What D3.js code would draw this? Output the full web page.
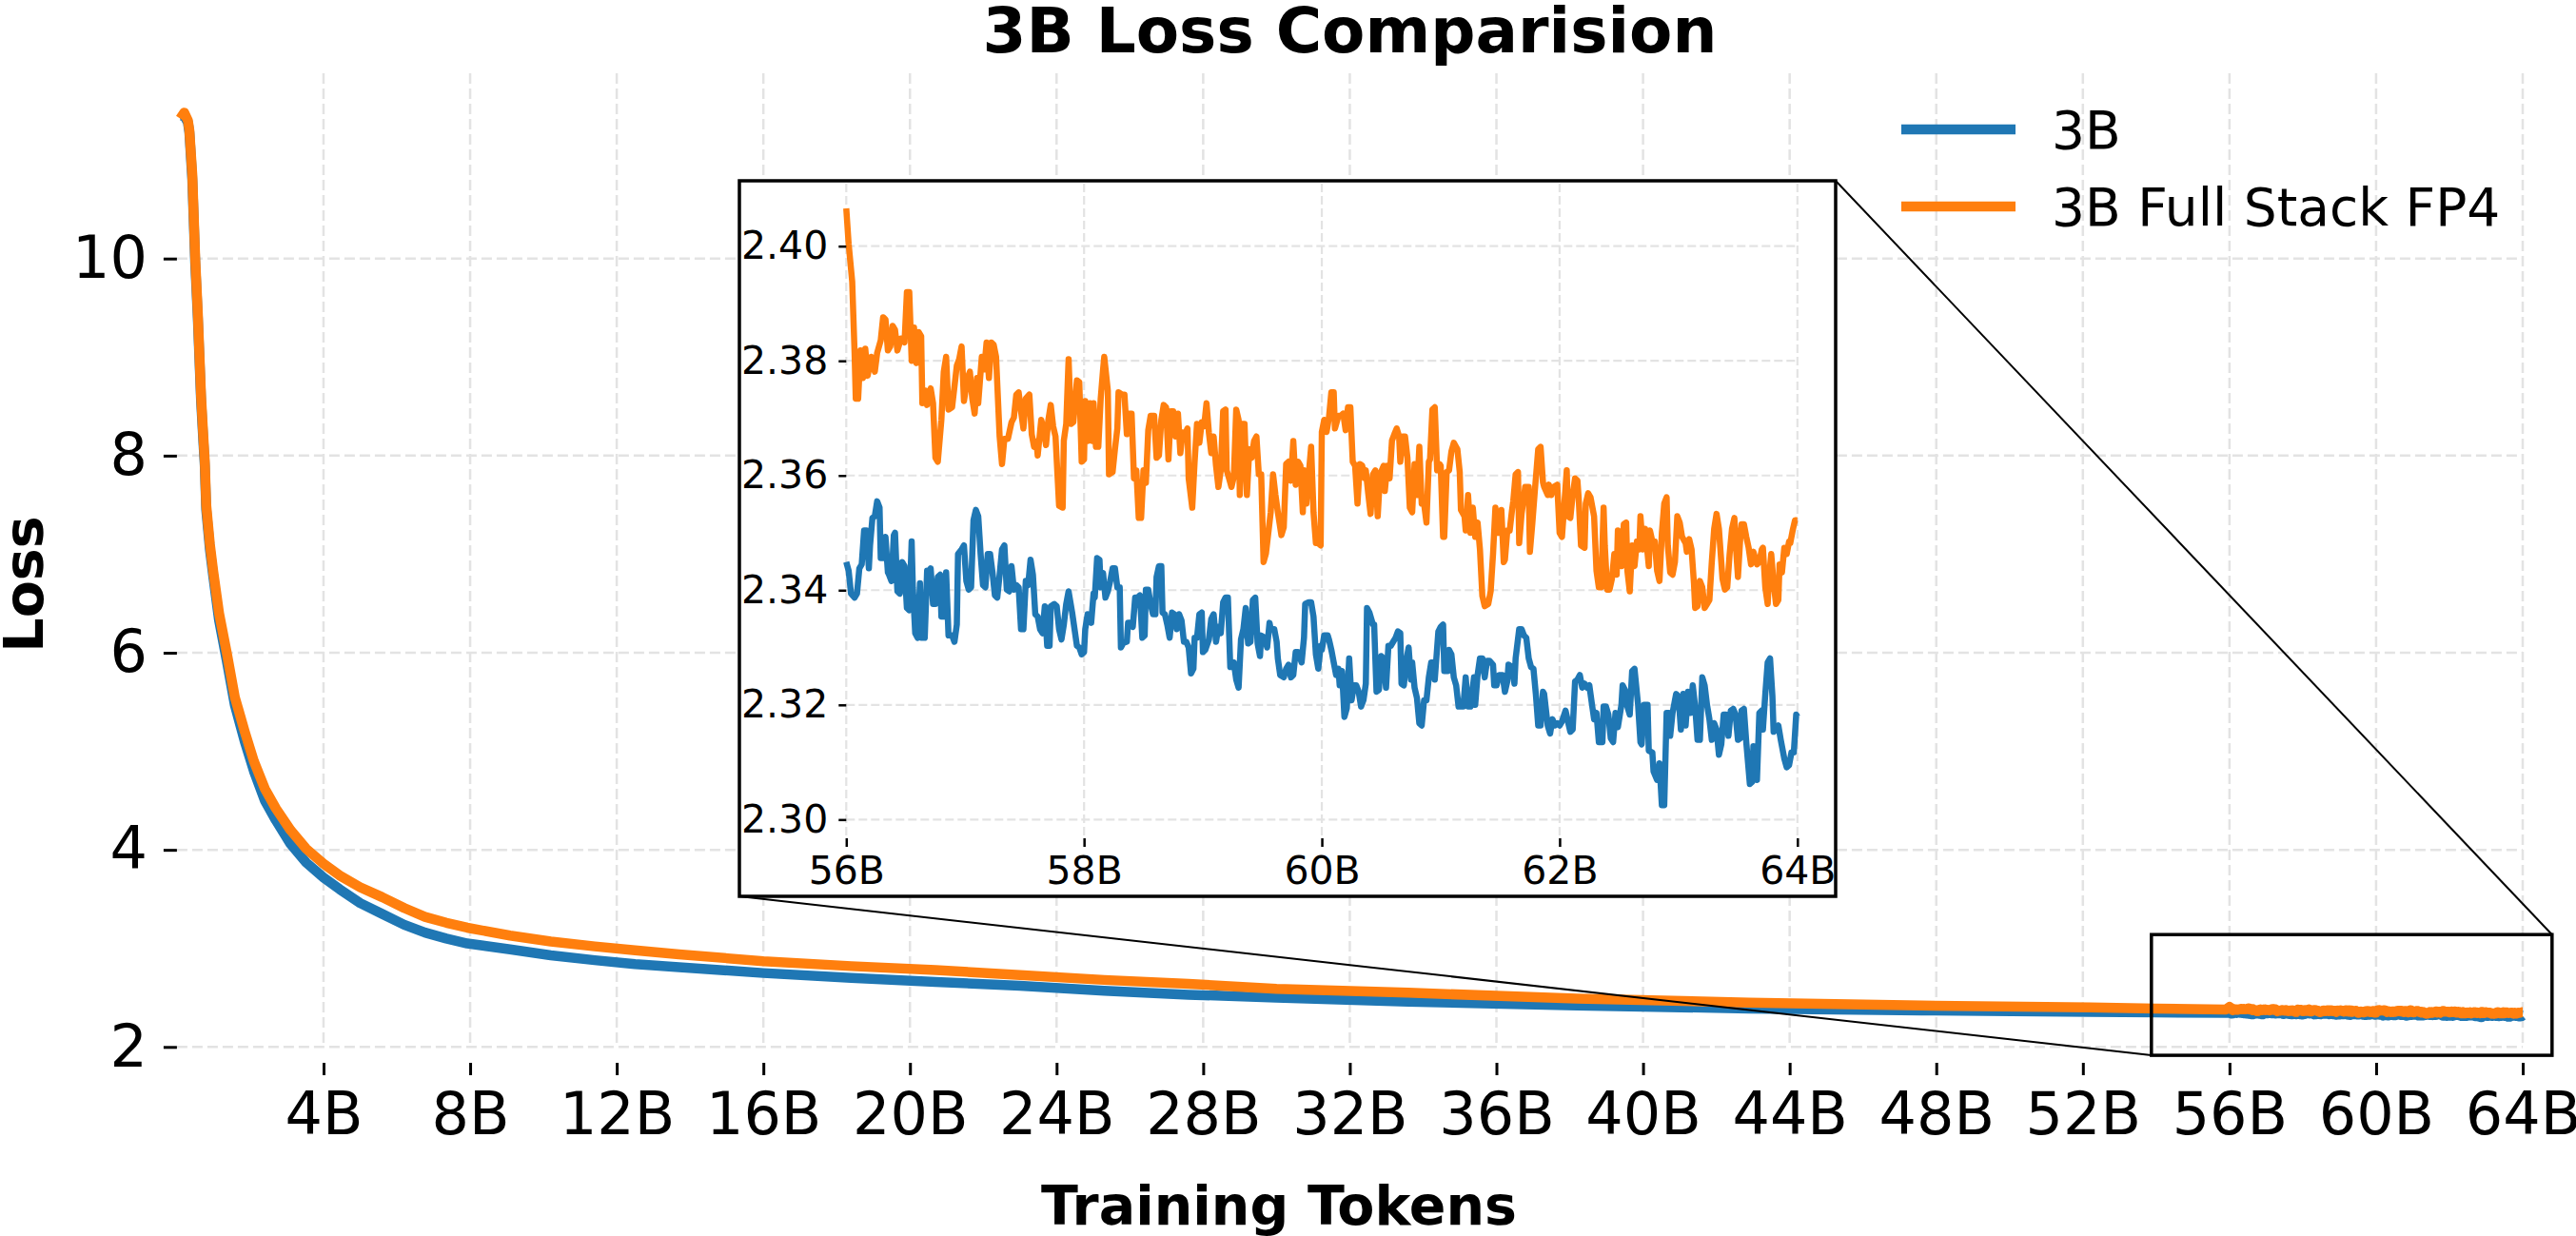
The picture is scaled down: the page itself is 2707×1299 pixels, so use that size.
<!DOCTYPE html>
<html>
<head>
<meta charset="utf-8">
<script src="https://cdn.jsdelivr.net/npm/d3@7"></script>
<style>
  body { margin: 0; background: #fff; }
  svg { display: block; }
  text { font-family: "DejaVu Sans", sans-serif; fill: #000; }
</style>
</head>
<body>
<div id="chart"></div>
<script>
// ---- data (tokens in billions, loss values) ----
const mainTokens = [0.09, 0.2, 0.3, 0.34, 0.42, 0.5, 0.57, 0.66, 0.72, 0.76, 0.8, 0.9, 0.99, 1.15, 1.36, 1.58, 1.85, 2.1, 2.4, 2.7,
  3.1, 3.53, 4.0, 4.44, 5.0, 5.6, 6.2, 6.77, 7.35, 7.92, 9.09, 10.2, 11.4, 12.5, 13.7, 16.0, 18.4, 20.7, 23.0, 25.3,
  27.6, 30, 33.6, 38.2, 42.9, 47.6, 52.2, 54, 55.9];
const main3B = [11.45, 11.45, 11.38, 11.28, 10.8, 9.95, 9.4, 8.55, 8.15, 7.9, 7.45, 7.05, 6.78, 6.33, 5.92, 5.47, 5.1, 4.8, 4.5, 4.3,
  4.06, 3.87, 3.72, 3.60, 3.46, 3.35, 3.24, 3.16, 3.10, 3.05, 2.99, 2.93, 2.88, 2.84, 2.81, 2.75, 2.70, 2.66, 2.62, 2.57,
  2.53, 2.50, 2.46, 2.42, 2.39, 2.37, 2.355, 2.35, 2.345];
const mainFP4 = [11.42, 11.48, 11.40, 11.30, 10.85, 10.0, 9.45, 8.6, 8.2, 7.95, 7.5, 7.1, 6.83, 6.4, 6.0, 5.55, 5.2, 4.9, 4.62, 4.42,
  4.2, 4.01, 3.86, 3.74, 3.62, 3.52, 3.41, 3.32, 3.26, 3.21, 3.13, 3.07, 3.02, 2.98, 2.94, 2.87, 2.82, 2.78, 2.73, 2.68,
  2.64, 2.59, 2.55, 2.49, 2.45, 2.42, 2.40, 2.39, 2.38];

// last 8B in detail, [tokens, loss]
const zoom3B = [
  [56.00,2.3449],[56.02,2.3434],[56.04,2.3394],[56.07,2.3387],[56.09,2.3394],[56.11,2.3438],[56.13,2.3445],[56.15,2.3504],[56.17,2.3504],[56.19,2.3438],
  [56.20,2.3478],[56.22,2.3526],[56.24,2.3529],[56.26,2.3555],[56.28,2.3544],[56.29,2.3456],[56.31,2.3456],[56.33,2.3493],[56.35,2.3431],[56.36,2.3427],
  [56.38,2.3416],[56.40,2.3496],[56.41,2.3500],[56.43,2.3398],[56.45,2.3394],[56.47,2.3449],[56.49,2.3442],[56.51,2.3369],[56.53,2.3365],[56.55,2.3485],
  [56.56,2.3405],[56.58,2.3325],[56.60,2.3317],[56.62,2.3412],[56.63,2.3317],[56.66,2.3317],[56.68,2.3434],[56.70,2.3434],[56.71,2.3438],[56.73,2.3376],
  [56.75,2.3376],[56.77,2.3423],[56.79,2.3427],[56.80,2.3354],[56.83,2.3354],[56.84,2.3431],[56.86,2.3321],[56.89,2.3321],[56.91,2.3310],[56.93,2.3340],
  [56.94,2.3463],[56.97,2.3471],[56.99,2.3478],[57.01,2.3416],[57.03,2.3401],[57.05,2.3405],[57.07,2.3522],[57.09,2.3540],[57.11,2.3529],[57.13,2.3463],
  [57.15,2.3409],[57.17,2.3405],[57.19,2.3463],[57.21,2.3463],[57.23,2.3431],[57.25,2.3391],[57.27,2.3387],[57.29,2.3427],[57.31,2.3471],[57.33,2.3478],
  [57.35,2.3401],[57.37,2.3398],[57.39,2.3442],[57.41,2.3401],[57.43,2.3409],[57.45,2.3405],[57.47,2.3332],[57.49,2.3332],[57.51,2.3416],[57.53,2.3409],
  [57.55,2.3453],[57.57,2.3427],[57.59,2.3358],[57.61,2.3354],[57.63,2.3332],[57.65,2.3325],[57.67,2.3372],[57.69,2.3303],[57.71,2.3303],[57.72,2.3372],
  [57.75,2.3376],[57.77,2.3372],[57.79,2.3332],[57.81,2.3314],[57.83,2.3340],[57.85,2.3376],[57.87,2.3398],[57.90,2.3361],[57.92,2.3332],[57.94,2.3303],
  [57.96,2.3300],[57.98,2.3288],[58.00,2.3292],
  [58.01,2.3332],[58.03,2.3358],[58.06,2.3343],[58.08,2.3394],[58.09,2.3387],[58.11,2.3456],[58.13,2.3453],[58.14,2.3405],[58.16,2.3430],[58.18,2.3387],
  [58.20,2.3398],[58.22,2.3416],[58.24,2.3438],[58.26,2.3438],[58.28,2.3405],[58.30,2.3405],[58.31,2.3300],[58.33,2.3308],[58.36,2.3310],[58.37,2.3343],
  [58.39,2.3343],[58.41,2.3336],[58.43,2.3387],[58.45,2.3387],[58.47,2.3391],[58.49,2.3317],[58.51,2.3321],[58.52,2.3401],[58.54,2.3401],[58.56,2.3376],
  [58.58,2.3358],[58.60,2.3358],[58.61,2.3423],[58.63,2.3442],[58.65,2.3442],[58.66,2.3361],[58.68,2.3358],[58.70,2.3340],[58.72,2.3317],[58.74,2.3361],
  [58.76,2.3358],[58.78,2.3332],[58.80,2.3358],[58.82,2.3347],[58.84,2.3310],[58.86,2.3310],[58.88,2.3300],[58.90,2.3255],[58.92,2.3263],[58.93,2.3317],
  [58.95,2.3317],[58.97,2.3358],[58.99,2.3361],[59.00,2.3292],[59.02,2.3296],[59.05,2.3314],[59.07,2.3350],[59.09,2.3358],[59.11,2.3310],[59.13,2.3336],
  [59.15,2.3325],[59.17,2.3379],[59.19,2.3387],[59.21,2.3387],[59.23,2.3266],[59.25,2.3266],[59.26,2.3274],[59.28,2.3244],[59.30,2.3230],[59.32,2.3314],
  [59.34,2.3332],[59.36,2.3369],[59.38,2.3307],[59.40,2.3310],[59.42,2.3383],[59.44,2.3387],[59.46,2.3307],[59.48,2.3285],[59.49,2.3321],[59.52,2.3317],
  [59.54,2.3300],[59.56,2.3343],[59.57,2.3332],[59.60,2.3332],[59.62,2.3310],[59.63,2.3281],[59.65,2.3252],[59.68,2.3248],[59.70,2.3263],[59.72,2.3270],
  [59.74,2.3248],[59.76,2.3252],[59.78,2.3292],[59.80,2.3292],[59.83,2.3274],[59.85,2.3317],[59.86,2.3376],[59.89,2.3379],[59.91,2.3379],[59.93,2.3354],
  [59.95,2.3288],[59.97,2.3263],[59.99,2.3303],
  [60.00,2.3296],[60.02,2.3321],[60.05,2.3321],[60.06,2.3314],[60.08,2.3296],[60.10,2.3274],[60.12,2.3252],[60.14,2.3263],[60.15,2.3234],[60.17,2.3259],
  [60.19,2.3179],[60.21,2.3194],[60.23,2.3281],[60.25,2.3208],[60.27,2.3234],[60.29,2.3234],[60.31,2.3223],[60.33,2.3197],[60.35,2.3208],[60.37,2.3237],
  [60.38,2.3369],[60.40,2.3361],[60.43,2.3340],[60.44,2.3340],[60.46,2.3223],[60.48,2.3226],[60.50,2.3285],[60.52,2.3281],[60.54,2.3230],[60.56,2.3303],
  [60.58,2.3303],[60.60,2.3310],[60.62,2.3317],[60.64,2.3328],[60.66,2.3325],[60.67,2.3237],[60.69,2.3234],[60.71,2.3277],[60.73,2.3300],[60.75,2.3244],
  [60.76,2.3274],[60.78,2.3230],[60.80,2.3212],[60.82,2.3168],[60.84,2.3164],[60.86,2.3208],[60.88,2.3208],[60.90,2.3248],[60.92,2.3274],[60.94,2.3274],
  [60.95,2.3244],[60.98,2.3328],[61.00,2.3336],[61.02,2.3340],[61.03,2.3259],[61.06,2.3259],[61.07,2.3296],[61.09,2.3288],[61.11,2.3248],[61.13,2.3234],
  [61.15,2.3197],[61.17,2.3197],[61.19,2.3197],[61.21,2.3248],[61.23,2.3197],[61.25,2.3197],[61.28,2.3248],[61.29,2.3200],[61.31,2.3252],[61.33,2.3281],
  [61.35,2.3281],[61.37,2.3248],[61.39,2.3277],[61.41,2.3277],[61.44,2.3270],[61.45,2.3234],[61.47,2.3234],[61.49,2.3252],[61.52,2.3252],[61.54,2.3223],
  [61.56,2.3241],[61.57,2.3270],[61.60,2.3266],[61.62,2.3237],[61.63,2.3281],[61.66,2.3332],[61.68,2.3332],[61.70,2.3321],[61.72,2.3317],[61.74,2.3281],
  [61.76,2.3266],[61.78,2.3263],[61.80,2.3219],[61.82,2.3164],[61.84,2.3164],[61.86,2.3223],[61.87,2.3219],[61.90,2.3164],[61.92,2.3150],[61.94,2.3175],
  [61.96,2.3164],[61.98,2.3168],
  [62.00,2.3164],[62.02,2.3171],[62.05,2.3190],[62.07,2.3171],[62.09,2.3153],[62.11,2.3157],[62.13,2.3241],[62.15,2.3244],[62.17,2.3252],[62.19,2.3230],
  [62.21,2.3237],[62.23,2.3230],[62.25,2.3234],[62.27,2.3204],[62.29,2.3175],[62.31,2.3186],[62.33,2.3135],[62.36,2.3135],[62.37,2.3197],[62.39,2.3197],
  [62.41,2.3183],[62.43,2.3142],[62.45,2.3135],[62.47,2.3186],[62.49,2.3161],[62.52,2.3200],[62.53,2.3234],[62.55,2.3226],[62.57,2.3197],[62.59,2.3183],
  [62.61,2.3259],[62.63,2.3263],[62.66,2.3200],[62.68,2.3135],[62.69,2.3131],[62.71,2.3200],[62.74,2.3200],[62.75,2.3120],[62.78,2.3117],[62.79,2.3084],
  [62.82,2.3069],[62.84,2.3098],[62.86,2.3025],[62.88,2.3025],[62.90,2.3186],[62.92,2.3186],[62.93,2.3146],[62.95,2.3186],[62.98,2.3219],[63.00,2.3215],
  [63.02,2.3157],[63.04,2.3219],[63.06,2.3164],[63.08,2.3223],[63.10,2.3186],[63.12,2.3234],[63.14,2.3197],[63.16,2.3139],[63.18,2.3139],[63.20,2.3248],
  [63.22,2.3234],[63.24,2.3200],[63.26,2.3175],[63.28,2.3139],[63.30,2.3168],[63.32,2.3157],[63.34,2.3113],[63.36,2.3131],[63.38,2.3183],[63.40,2.3183],
  [63.42,2.3146],[63.44,2.3190],[63.46,2.3193],[63.48,2.3183],[63.50,2.3139],[63.52,2.3142],[63.53,2.3190],[63.55,2.3193],[63.57,2.3135],[63.60,2.3062],
  [63.62,2.3066],[63.63,2.3128],[63.66,2.3069],[63.68,2.3186],[63.70,2.3190],[63.71,2.3157],[63.73,2.3219],[63.75,2.3274],[63.77,2.3281],[63.79,2.3215],
  [63.80,2.3153],[63.82,2.3157],[63.84,2.3164],[63.86,2.3139],[63.89,2.3106],[63.91,2.3091],[63.93,2.3095],[63.95,2.3117],[63.97,2.3117],[63.99,2.3183],
  [64.00,2.3179]
];

const zoomFP4 = [
  [56.00,2.4066],[56.02,2.4004],[56.05,2.3938],[56.07,2.3814],[56.08,2.3734],[56.10,2.3734],[56.12,2.3818],[56.14,2.3770],[56.16,2.3821],[56.18,2.3774],
  [56.21,2.3807],[56.24,2.3781],[56.26,2.3814],[56.29,2.3836],[56.31,2.3876],[56.33,2.3872],[56.35,2.3818],[56.37,2.3825],[56.39,2.3861],[56.41,2.3854],
  [56.43,2.3818],[56.46,2.3839],[56.49,2.3832],[56.51,2.3920],[56.53,2.3920],[56.55,2.3800],[56.57,2.3858],[56.59,2.3796],[56.61,2.3850],[56.63,2.3843],
  [56.64,2.3726],[56.67,2.3748],[56.68,2.3723],[56.71,2.3752],[56.73,2.3726],[56.75,2.3631],[56.77,2.3624],[56.80,2.3697],[56.82,2.3781],[56.84,2.3807],
  [56.86,2.3715],[56.89,2.3719],[56.91,2.3755],[56.93,2.3792],[56.95,2.3803],[56.97,2.3825],[56.99,2.3730],[57.02,2.3770],[57.04,2.3781],[57.06,2.3734],
  [57.08,2.3708],[57.10,2.3770],[57.11,2.3726],[57.14,2.3807],[57.16,2.3785],[57.18,2.3832],[57.20,2.3770],[57.22,2.3832],[57.24,2.3828],[57.26,2.3807],
  [57.29,2.3668],[57.31,2.3620],[57.33,2.3664],[57.36,2.3664],[57.39,2.3693],[57.41,2.3701],[57.43,2.3741],[57.45,2.3745],[57.47,2.3712],[57.49,2.3682],
  [57.51,2.3734],[57.54,2.3741],[57.56,2.3672],[57.58,2.3650],[57.60,2.3659],[57.61,2.3635],[57.64,2.3697],[57.66,2.3682],[57.68,2.3653],[57.70,2.3697],
  [57.72,2.3723],[57.74,2.3686],[57.76,2.3668],[57.79,2.3547],[57.82,2.3544],[57.83,2.3661],[57.85,2.3690],[57.87,2.3803],[57.89,2.3690],[57.91,2.3693],
  [57.94,2.3766],[57.96,2.3763],[57.98,2.3624],[58.00,2.3628],
  [58.01,2.3730],[58.03,2.3660],[58.05,2.3726],[58.07,2.3660],[58.08,2.3726],[58.10,2.3650],[58.12,2.3650],[58.14,2.3734],[58.16,2.3785],[58.17,2.3807],
  [58.20,2.3748],[58.21,2.3602],[58.24,2.3606],[58.26,2.3646],[58.28,2.3682],[58.29,2.3745],[58.32,2.3741],[58.34,2.3741],[58.36,2.3672],[58.38,2.3708],
  [58.40,2.3708],[58.42,2.3595],[58.44,2.3609],[58.46,2.3526],[58.48,2.3526],[58.50,2.3609],[58.52,2.3587],[58.54,2.3679],[58.56,2.3704],[58.59,2.3704],
  [58.61,2.3631],[58.63,2.3635],[58.65,2.3697],[58.67,2.3723],[58.69,2.3719],[58.71,2.3628],[58.73,2.3712],[58.75,2.3712],[58.77,2.3668],[58.79,2.3708],
  [58.81,2.3639],[58.83,2.3675],[58.85,2.3672],[58.87,2.3682],[58.88,2.3595],[58.91,2.3544],[58.93,2.3624],[58.95,2.3690],[58.97,2.3657],[58.99,2.3693],
  [59.01,2.3686],[59.03,2.3726],[59.05,2.3675],[59.07,2.3639],[59.09,2.3668],[59.11,2.3617],[59.13,2.3580],[59.15,2.3609],[59.17,2.3712],[59.19,2.3715],
  [59.20,2.3609],[59.22,2.3595],[59.24,2.3580],[59.26,2.3598],[59.28,2.3715],[59.30,2.3697],[59.31,2.3566],[59.33,2.3690],[59.35,2.3690],[59.37,2.3566],
  [59.39,2.3646],[59.41,2.3631],[59.43,2.3660],[59.45,2.3668],[59.47,2.3602],[59.49,2.3602],[59.51,2.3449],[59.53,2.3464],[59.55,2.3500],[59.57,2.3536],
  [59.59,2.3602],[59.61,2.3566],[59.63,2.3536],[59.66,2.3496],[59.68,2.3510],[59.70,2.3620],[59.72,2.3624],[59.74,2.3591],[59.76,2.3660],[59.78,2.3584],
  [59.80,2.3624],[59.82,2.3617],[59.84,2.3536],[59.85,2.3609],[59.87,2.3551],[59.89,2.3602],[59.91,2.3650],[59.93,2.3536],[59.95,2.3482],[59.97,2.3482],
  [59.99,2.3478],
  [60.00,2.3676],[60.02,2.3697],[60.04,2.3676],[60.06,2.3701],[60.08,2.3745],[60.10,2.3745],[60.11,2.3682],[60.14,2.3704],[60.16,2.3704],[60.18,2.3708],
  [60.20,2.3679],[60.22,2.3719],[60.24,2.3719],[60.26,2.3624],[60.28,2.3617],[60.30,2.3551],[60.32,2.3620],[60.34,2.3617],[60.36,2.3595],[60.37,2.3609],
  [60.39,2.3569],[60.41,2.3533],[60.43,2.3602],[60.45,2.3609],[60.47,2.3529],[60.49,2.3602],[60.52,2.3617],[60.53,2.3573],[60.55,2.3617],[60.57,2.3595],
  [60.59,2.3661],[60.61,2.3672],[60.63,2.3682],[60.65,2.3668],[60.66,2.3624],[60.68,2.3668],[60.70,2.3668],[60.72,2.3631],[60.74,2.3544],[60.76,2.3536],
  [60.78,2.3620],[60.80,2.3566],[60.82,2.3650],[60.84,2.3551],[60.86,2.3551],[60.88,2.3518],[60.90,2.3624],[60.91,2.3628],[60.93,2.3715],[60.95,2.3719],
  [60.97,2.3609],[60.99,2.3620],[61.00,2.3617],[61.02,2.3493],[61.03,2.3493],[61.05,2.3606],[61.07,2.3609],[61.09,2.3642],[61.11,2.3657],[61.14,2.3646],
  [61.16,2.3606],[61.17,2.3540],[61.20,2.3529],[61.21,2.3504],[61.23,2.3566],[61.25,2.3500],[61.27,2.3544],[61.29,2.3493],[61.31,2.3518],[61.33,2.3471],
  [61.35,2.3390],[61.37,2.3372],[61.40,2.3376],[61.42,2.3398],[61.44,2.3463],[61.46,2.3544],[61.47,2.3522],[61.49,2.3500],[61.51,2.3540],[61.53,2.3449],
  [61.54,2.3453],[61.56,2.3504],[61.58,2.3504],[61.60,2.3540],[61.61,2.3555],[61.63,2.3602],[61.65,2.3606],[61.66,2.3482],[61.68,2.3533],[61.70,2.3562],
  [61.71,2.3580],[61.74,2.3580],[61.75,2.3467],[61.77,2.3515],[61.79,2.3569],[61.82,2.3646],[61.84,2.3650],[61.86,2.3588],[61.87,2.3580],[61.90,2.3566],
  [61.91,2.3584],[61.93,2.3566],[61.95,2.3580],[61.98,2.3584],[62.00,2.3500],[62.02,2.3493],
  [62.06,2.3609],[62.07,2.3529],[62.09,2.3526],[62.11,2.3566],[62.13,2.3595],[62.15,2.3591],[62.16,2.3562],[62.18,2.3478],[62.21,2.3474],[62.22,2.3551],
  [62.24,2.3569],[62.26,2.3562],[62.29,2.3529],[62.31,2.3434],[62.33,2.3405],[62.35,2.3405],[62.37,2.3544],[62.38,2.3478],[62.40,2.3401],[62.42,2.3401],
  [62.44,2.3420],[62.46,2.3463],[62.48,2.3427],[62.49,2.3504],[62.52,2.3442],[62.54,2.3515],[62.56,2.3518],[62.57,2.3434],[62.59,2.3398],[62.61,2.3478],
  [62.63,2.3442],[62.65,2.3485],[62.67,2.3471],[62.68,2.3529],[62.70,2.3471],[62.72,2.3507],[62.75,2.3442],[62.76,2.3504],[62.78,2.3485],[62.80,2.3485],
  [62.82,2.3434],[62.84,2.3416],[62.86,2.3500],[62.88,2.3551],[62.90,2.3562],[62.91,2.3478],[62.93,2.3431],[62.95,2.3427],[62.97,2.3449],[62.99,2.3529],
  [63.01,2.3518],[63.03,2.3493],[63.06,2.3482],[63.07,2.3467],[63.09,2.3489],[63.11,2.3471],[63.13,2.3412],[63.14,2.3369],[63.16,2.3372],[63.18,2.3416],
  [63.20,2.3405],[63.22,2.3369],[63.24,2.3376],[63.26,2.3383],[63.28,2.3449],[63.30,2.3507],[63.32,2.3533],[63.34,2.3507],[63.36,2.3449],[63.37,2.3420],
  [63.39,2.3401],[63.41,2.3405],[63.43,2.3463],[63.45,2.3507],[63.47,2.3526],[63.48,2.3485],[63.50,2.3423],[63.52,2.3493],[63.53,2.3515],[63.55,2.3515],
  [63.57,2.3493],[63.59,2.3474],[63.61,2.3445],[63.63,2.3467],[63.66,2.3445],[63.68,2.3449],[63.70,2.3471],[63.71,2.3474],[63.73,2.3405],[63.75,2.3376],
  [63.76,2.3420],[63.78,2.3463],[63.80,2.3412],[63.82,2.3376],[63.84,2.3383],[63.85,2.3445],[63.87,2.3431],[63.89,2.3474],[63.91,2.3463],[63.93,2.3485],
  [63.94,2.3482],[63.96,2.3504],[63.98,2.3522],[64.00,2.3522]
];

const seriesNames = ["3B", "3B Full Stack FP4"];
const seriesColors = ["#1f77b4", "#ff7f0e"];
const xTicks = d3.range(4, 65, 4);          // 4B ... 64B
const yTicks = [2, 4, 6, 8, 10];
const insetXTicks = [56, 58, 60, 62, 64];
const insetYTicks = [2.30, 2.32, 2.34, 2.36, 2.38, 2.40];
const zoomBoxTokens = [53.87, 64.8];
const zoomBoxLoss = [1.915, 3.14];

// ---- layout ----
const width = 2707, height = 1299;
const gridColor = "#e3e3e3";

const svg = d3.select("#chart").append("svg")
  .attr("width", width)
  .attr("height", height);

const x = d3.scaleLinear().domain([0, 64]).range([185.9, 2651]);
const y = d3.scaleLinear().domain([2, 11.88]).range([1100.3, 77]);

const fmtB = d => d + "B";

// main grid
const grid = svg.append("g");
grid.selectAll(".vg").data(xTicks).enter().append("line")
  .attr("x1", d => x(d)).attr("x2", d => x(d))
  .attr("y1", y.range()[1]).attr("y2", y.range()[0])
  .attr("stroke", gridColor).attr("stroke-width", 2.5).attr("stroke-dasharray", "11,5");
grid.selectAll(".hg").data(yTicks).enter().append("line")
  .attr("x1", x.range()[0]).attr("x2", x.range()[1])
  .attr("y1", d => y(d)).attr("y2", d => y(d))
  .attr("stroke", gridColor).attr("stroke-width", 2.5).attr("stroke-dasharray", "11,5");

// main curves: coarse part + detailed tail
const full3B = mainTokens.map((t, i) => [t, main3B[i]]).concat(zoom3B);
const fullFP4 = mainTokens.map((t, i) => [t, mainFP4[i]]).concat(zoomFP4);

const line = d3.line().x(d => x(d[0])).y(d => y(d[1]));
[full3B, fullFP4].forEach((s, i) => {
  svg.append("path")
    .datum(s)
    .attr("d", line)
    .attr("fill", "none")
    .attr("stroke", seriesColors[i])
    .attr("stroke-width", 10.5)
    .attr("stroke-linejoin", "round");
});

// main axes
const yAxis = svg.append("g")
  .attr("transform", `translate(${x.range()[0]},0)`)
  .call(d3.axisLeft(y).tickValues(yTicks).tickSize(14).tickPadding(17));
const xAxis = svg.append("g")
  .attr("transform", "translate(0,1117)")
  .call(d3.axisBottom(x).tickValues(xTicks).tickFormat(fmtB).tickSize(13).tickPadding(18));
[xAxis, yAxis].forEach(a => {
  a.select(".domain").remove();
  a.selectAll(".tick line").attr("stroke", "#000").attr("stroke-width", 3);
  a.selectAll(".tick text").attr("font-size", 62).attr("font-family", "DejaVu Sans");
});

// zoom box on main chart
const bx0 = x(zoomBoxTokens[0]), bx1 = x(zoomBoxTokens[1]);
const by0 = y(zoomBoxLoss[1]), by1 = y(zoomBoxLoss[0]);
svg.append("rect")
  .attr("x", bx0).attr("y", by0)
  .attr("width", bx1 - bx0).attr("height", by1 - by0)
  .attr("fill", "none").attr("stroke", "#000").attr("stroke-width", 3.5);

// inset
const frame = { x0: 777, y0: 190, x1: 1929, y1: 942 };
const xi = d3.scaleLinear().domain([56, 64]).range([889.3, 1888.8]);
const yi = d3.scaleLinear().domain([2.2969, 2.4109]).range([880, 193]);

// connector lines
svg.append("line")
  .attr("x1", frame.x1).attr("y1", frame.y0).attr("x2", bx1).attr("y2", by0)
  .attr("stroke", "#000").attr("stroke-width", 2);
svg.append("line")
  .attr("x1", frame.x0).attr("y1", frame.y1).attr("x2", bx0).attr("y2", by1)
  .attr("stroke", "#000").attr("stroke-width", 2);

svg.append("rect")
  .attr("x", frame.x0).attr("y", frame.y0)
  .attr("width", frame.x1 - frame.x0).attr("height", frame.y1 - frame.y0)
  .attr("fill", "#fff").attr("stroke", "#000").attr("stroke-width", 3.5);

const inset = svg.append("g");
inset.selectAll(".ivg").data(insetXTicks).enter().append("line")
  .attr("x1", d => xi(d)).attr("x2", d => xi(d))
  .attr("y1", yi.range()[1]).attr("y2", yi.range()[0])
  .attr("stroke", gridColor).attr("stroke-width", 2.2).attr("stroke-dasharray", "9,4");
inset.selectAll(".ihg").data(insetYTicks).enter().append("line")
  .attr("x1", xi.range()[0]).attr("x2", xi.range()[1])
  .attr("y1", d => yi(d)).attr("y2", d => yi(d))
  .attr("stroke", gridColor).attr("stroke-width", 2.2).attr("stroke-dasharray", "9,4");

svg.append("clipPath").attr("id", "insetClip")
  .append("rect")
  .attr("x", xi.range()[0] - 4).attr("y", yi.range()[1])
  .attr("width", xi.range()[1] - xi.range()[0] + 8)
  .attr("height", yi.range()[0] - yi.range()[1]);

const iline = d3.line().x(d => xi(d[0])).y(d => yi(d[1]));
[zoom3B, zoomFP4].forEach((s, i) => {
  inset.append("path")
    .datum(s)
    .attr("clip-path", "url(#insetClip)")
    .attr("d", iline)
    .attr("fill", "none")
    .attr("stroke", seriesColors[i])
    .attr("stroke-width", 6.5)
    .attr("stroke-linejoin", "round");
});

const iyAxis = inset.append("g")
  .attr("transform", `translate(${xi.range()[0]},0)`)
  .call(d3.axisLeft(yi).tickValues(insetYTicks).tickFormat(d3.format(".2f")).tickSize(8).tickPadding(11));
const ixAxis = inset.append("g")
  .attr("transform", "translate(0,881)")
  .call(d3.axisBottom(xi).tickValues(insetXTicks).tickFormat(fmtB).tickSize(9).tickPadding(10));
[iyAxis, ixAxis].forEach(a => {
  a.select(".domain").remove();
  a.selectAll(".tick line").attr("stroke", "#000").attr("stroke-width", 2.5);
  a.selectAll(".tick text").attr("font-size", 41).attr("font-family", "DejaVu Sans");
});

// legend
const legend = svg.append("g");
seriesNames.forEach((name, i) => {
  const ly = 136 + i * 81;
  legend.append("line")
    .attr("x1", 1998).attr("x2", 2118)
    .attr("y1", ly).attr("y2", ly)
    .attr("stroke", seriesColors[i]).attr("stroke-width", 10.5);
  legend.append("text")
    .attr("x", 2156).attr("y", ly + 19.5)
    .attr("font-size", 55)
    .text(name);
});

// titles
svg.append("text")
  .attr("x", (x.range()[0] + x.range()[1]) / 2).attr("y", 55)
  .attr("text-anchor", "middle")
  .attr("font-size", 66).attr("font-weight", "bold")
  .text("3B Loss Comparision");

svg.append("text")
  .attr("x", 1344).attr("y", 1287)
  .attr("text-anchor", "middle")
  .attr("font-size", 57).attr("font-weight", "bold")
  .text("Training Tokens");

svg.append("text")
  .attr("transform", "translate(45,614) rotate(-90)")
  .attr("text-anchor", "middle")
  .attr("font-size", 57).attr("font-weight", "bold")
  .text("Loss");
</script>
</body>
</html>
